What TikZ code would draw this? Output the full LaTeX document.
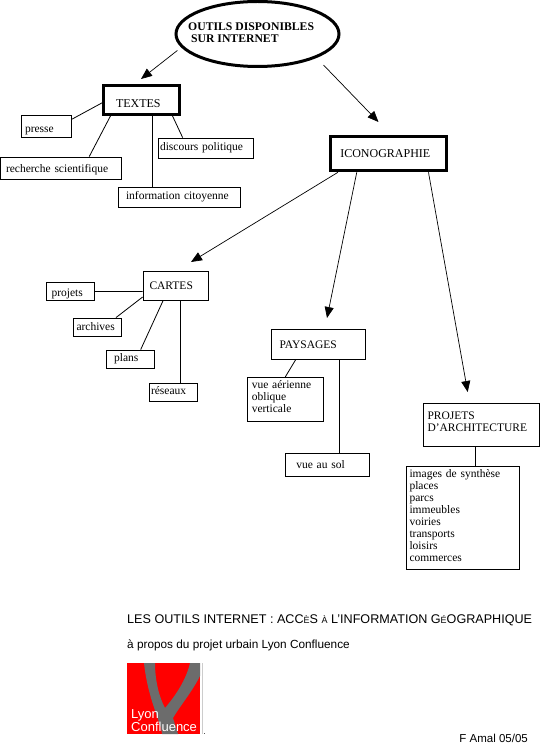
\documentclass[tikz,border=0pt]{standalone}
\usepackage{fontspec}
\setmainfont{Liberation Serif}
\setsansfont{Liberation Sans}
\usetikzlibrary{arrows.meta,shapes.geometric}
\newcommand{\smallcap}[1]{{\fontsize{9}{9}\selectfont #1}}
\tikzset{
  leaf/.style={shape=rectangle,draw=black,fill=white,line width=0.8pt,inner sep=0pt,align=left,font=\fontsize{11.5}{12}\selectfont},
  heavy/.style={shape=rectangle,draw=black,fill=white,line width=3pt,inner sep=0pt,align=left,font=\fontsize{12}{12}\selectfont},
  link/.style={draw=black,line width=0.8pt},
  pointer/.style={draw=black,line width=0.7pt,-{Triangle[length=11pt,width=9pt]}},
  caption/.style={inner sep=0pt,anchor=west,font=\sffamily\fontsize{12.6}{13}\selectfont},
  lower/.style={text height=#1},
  higher/.style={execute at end node=\vspace{#1}}
}
\begin{document}
\begin{tikzpicture}[x=1pt,y=-1pt]
\useasboundingbox (0,0) rectangle (541,746);
\node[shape=ellipse,draw=black,line width=3pt,fill=white,minimum width=163pt,minimum height=65pt,inner sep=0pt] (outils) at (257.5,34) {};
\node[inner sep=0pt,anchor=west,font=\bfseries\fontsize{11.7}{12}\selectfont,align=left] (outilstxt) at (188,32.5) {OUTILS DISPONIBLES\\\ SUR INTERNET};

\node[heavy,minimum width=75.5pt,minimum height=28.5pt,text width=51pt,lower=16pt] (textes) at (141.5,100) {TEXTES};
\node[heavy,minimum width=116pt,minimum height=34pt,text width=97pt] (icono) at (388.8,153.8) {ICONOGRAPHIE};

\node[leaf,minimum width=50pt,minimum height=22pt,text width=43pt,lower=14pt] (presse) at (46.5,126.5) {presse};
\node[leaf,minimum width=121pt,minimum height=22pt,text width=110pt,lower=12pt] (recherche) at (61,168) {recherche scientifique};
\node[leaf,minimum width=95pt,minimum height=20pt,text width=92pt] (discours) at (206,148) {discours politique};
\node[leaf,minimum width=122pt,minimum height=20pt,text width=106pt] (information) at (179,197) {information citoyenne};

\node[leaf,minimum width=65pt,minimum height=28.5pt,text width=52pt] (cartes) at (175.5,285.7) {CARTES};
\node[leaf,minimum width=47.5pt,minimum height=17.5pt,text width=38pt,lower=12pt] (projets) at (70.5,291.5) {projets};
\node[leaf,minimum width=48pt,minimum height=18pt,text width=42pt] (archives) at (97.5,327) {archives};
\node[leaf,minimum width=48.5pt,minimum height=18pt,text width=33pt] (plans) at (130.6,359) {plans};
\node[leaf,minimum width=48.5pt,minimum height=18.5pt,text width=45pt,higher=3pt] (reseaux) at (173.5,392.5) {réseaux};

\node[leaf,minimum width=94.5pt,minimum height=30pt,text width=78pt] (paysages) at (318.5,344.3) {PAYSAGES};
\node[leaf,minimum width=76pt,minimum height=44pt,text width=67pt,higher=6pt] (aerienne) at (285.3,399.3) {vue aérienne\\oblique\\verticale};
\node[leaf,minimum width=84pt,minimum height=22.7pt,text width=62pt] (sol) at (327.3,464.7) {vue au sol};

\node[leaf,minimum width=116.5pt,minimum height=43pt,text width=108pt,higher=7pt] (architecture) at (481.5,424.8) {PROJETS\\D’ARCHITECTURE};
\node[leaf,minimum width=113.5pt,minimum height=103.3pt,text width=107pt,higher=4pt] (synthese) at (463,517.7) {images de synthèse\\places\\parcs\\immeubles\\voiries\\transports\\loisirs\\commerces};

\coordinate (tiptextes) at (141,79);
\coordinate (tipicono) at (378.5,122);
\coordinate (tipcartes) at (191,262);
\coordinate (tippaysages) at (327,318);
\coordinate (tiparchi) at (467.7,392);
\draw[pointer,shorten <=5pt] (outils.190) -- (tiptextes);
\draw[pointer,shorten <=10pt] (outils.338.6) -- (tipicono);
\draw[pointer] (icono.200.8) -- (tipcartes);
\draw[pointer] (icono.210.5) -- (tippaysages);
\draw[pointer] (icono.335) -- (tiparchi);

\draw[link] (textes.184.5) -- (presse.16.7);
\draw[link] (textes.207.8) -- (recherche.22.2);
\draw[link] (information.159 |- textes.south) -- (information.159);
\draw[link] (textes.333.8) -- (discours.156.5);

\draw[link] (cartes.190) -- (projets.0);
\draw[link] (cartes.199) -- (archives.27.8);
\draw[link] (cartes.230.4) -- (plans.43.8);
\draw[link] (reseaux.53.5 |- cartes.south) -- (reseaux.53.5);

\draw[link] (paysages.214.5) -- (aerienne.north);
\draw[link] (sol.45.8 |- paysages.south) -- (sol.45.8);
\draw[link] (synthese.77.7 |- architecture.south) -- (synthese.77.7);

\node[caption] (titre) at (127,620.5) {LES OUTILS INTERNET : ACC\smallcap{È}S \smallcap{À} L’INFORMATION G\smallcap{É}OGRAPHIQUE};
\node[caption,font=\sffamily\fontsize{11.8}{13}\selectfont] (propos) at (127,645) {à propos du projet urbain Lyon Confluence};

% logo
\fill[red] (127,663) rectangle (200,734);
\draw[gray!40,line width=0.5pt] (202,663) -- (202,734);
\fill[gray!85!black] (144,663) -- (155,663) .. controls (155,680) and (159,697) .. (165,708) .. controls (176,695) and (186,680) .. (190,663) -- (200,663) -- (200,676) .. controls (192,692) and (180,706) .. (173,718) -- (178,734) -- (162,734) .. controls (161,722) and (148,700) .. (144,663) -- cycle;
\node[inner sep=0pt,anchor=west,text=white,font=\sffamily\fontsize{13}{13}\selectfont,align=left] (logotxt) at (131,720.5) {Lyon\\Confluence};
\node[inner sep=0pt,anchor=base west,font=\sffamily\fontsize{8}{9}\selectfont] (point) at (203.5,734) {.};
\node[inner sep=0pt,anchor=east,font=\sffamily\fontsize{11.5}{13}\selectfont] (signature) at (528,738) {F Amal 05/05};
\end{tikzpicture}
\end{document}
